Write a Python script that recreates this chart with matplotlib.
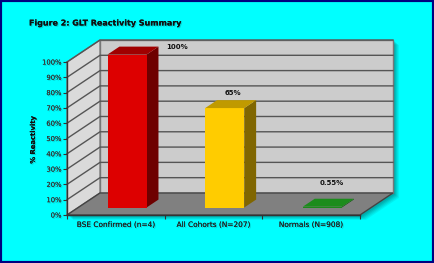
import matplotlib
matplotlib.use("Agg")
import matplotlib.pyplot as plt
from matplotlib.patches import Polygon, Rectangle
from matplotlib import patheffects as pe
from matplotlib.transforms import offset_copy

# ---- data ----
categories = ["BSE Confirmed (n=4)", "All Cohorts (N=207)", "Normals (N=908)"]
values = [100, 65, 0.55]
value_labels = ["100%", "65%", "0.55%"]
yticks = [0, 10, 20, 30, 40, 50, 60, 70, 80, 90, 100]
ytick_labels = [f"{t}%" for t in yticks]
title = "Figure 2: GLT Reactivity Summary"
ylabel = "% Reactivity"

# ---- style ----
front_colors = ["#DD0000", "#FFCC00", "#1A8A1A"]
side_colors = ["#6E0000", "#806600", "#0E5A0E"]
top_colors = ["#A00000", "#C09A00", "#1C8C1C"]
label_offsets = [(0.626, 9.8), (0.199, 14.7), (0.212, 20.4)]

DX, DY = 0.338, 14.4          # depth offset of the back wall (data units)
D0, D1 = 0.34, 0.70           # bar depth range (fraction)
HW = 0.2                      # bar half width
XL, XR = -0.5, 2.5
YMAX = 100

W, H = 434, 263
fig = plt.figure(figsize=(W / 100, H / 100), dpi=100)
fig.patch.set_facecolor("#00FFFF")
# navy frame
fig.add_artist(Rectangle((0, 0), 1, 1, transform=fig.transFigure, fill=False,
                         edgecolor="#000080", linewidth=3.0, zorder=10))

ax = fig.add_axes([67 / W, 48 / H, 326 / W, 175 / H])
ax.set_xlim(XL, XR + DX)
ax.set_ylim(0, YMAX + DY)
ax.patch.set_alpha(0)


def P(x, y, d):
    return (x + d * DX, y + d * DY)


# shadow of the whole chart body
outline = [P(XL, 0, 0), P(XR, 0, 0), P(XR, 0, 1), P(XR, YMAX, 1),
           P(XL, YMAX, 1), P(XL, YMAX, 0)]
for k, a in [(6, 0.10), (5, 0.12), (4, 0.15), (3, 0.18), (2, 0.2)]:
    tr = offset_copy(ax.transData, fig=fig, x=k, y=-k * 0.8, units="dots")
    ax.add_patch(Polygon(outline, closed=True, facecolor="#007070", edgecolor="none",
                         alpha=a, transform=tr, zorder=0.5, clip_on=False))

# back wall
ax.add_patch(Polygon([P(XL, 0, 1), P(XR, 0, 1), P(XR, YMAX, 1), P(XL, YMAX, 1)],
                     closed=True, facecolor="#CCCCCC", edgecolor="#777777",
                     linewidth=1.0, zorder=1, clip_on=False))
# side wall
ax.add_patch(Polygon([P(XL, 0, 0), P(XL, 0, 1), P(XL, YMAX, 1), P(XL, YMAX, 0)],
                     closed=True, facecolor="#DADADA", edgecolor="#777777",
                     linewidth=1.0, zorder=1, clip_on=False))
# grid lines
for t in yticks[1:]:
    xs = [P(XL, t, 0)[0], P(XL, t, 1)[0], P(XR, t, 1)[0]]
    ys = [P(XL, t, 0)[1], P(XL, t, 1)[1], P(XR, t, 1)[1]]
    ax.plot(xs, ys, color="#555555", linewidth=1.0, zorder=1.5, clip_on=False)
# floor
ax.add_patch(Polygon([P(XL, 0, 0), P(XR, 0, 0), P(XR, 0, 1), P(XL, 0, 1)],
                     closed=True, facecolor="#808080", edgecolor="#444444",
                     linewidth=1.0, zorder=2, clip_on=False))

# bars
for i, v in enumerate(values):
    x0, x1 = i - HW, i + HW
    front = [P(x0, 0, D0), P(x1, 0, D0), P(x1, v, D0), P(x0, v, D0)]
    side = [P(x1, 0, D0), P(x1, 0, D1), P(x1, v, D1), P(x1, v, D0)]
    top = [P(x0, v, D0), P(x1, v, D0), P(x1, v, D1), P(x0, v, D1)]
    ax.add_patch(Polygon(side, closed=True, facecolor=side_colors[i], edgecolor="none", zorder=3))
    ax.add_patch(Polygon(front, closed=True, facecolor=front_colors[i], edgecolor="none", zorder=3))
    ax.add_patch(Polygon(top, closed=True, facecolor=top_colors[i], edgecolor="none", zorder=3))
    ox, oy = label_offsets[i]
    ax.text(i + ox, v + oy, value_labels[i], ha="center", va="center",
            fontsize=5.0, fontweight="bold", color="#111111", zorder=5,
            clip_on=False)

# axes / ticks
txt_shadow = [pe.withSimplePatchShadow(offset=(0.8, -0.8), shadow_rgbFace="#008888", alpha=0.35), pe.Normal()]
for s in ["top", "right"]:
    ax.spines[s].set_visible(False)
ax.spines["left"].set_bounds(0, YMAX)
ax.spines["bottom"].set_bounds(XL, XR)
for s in ["left", "bottom"]:
    ax.spines[s].set_color("#333333")
    ax.spines[s].set_linewidth(1.0)
    ax.spines[s].set_zorder(4)
ax.set_yticks(yticks)
ax.set_yticklabels(ytick_labels)
ax.set_xticks([XL, 0.5, 1.5, XR], minor=False)
ax.set_xticklabels([])
ax.set_xticks(range(len(categories)), minor=True)
ax.set_xticklabels(categories, minor=True)
ax.tick_params(axis="y", length=3, width=0.8, color="#333333", pad=1,
               labelsize=4.9, labelcolor="#333333")
ax.tick_params(axis="x", which="major", length=3, width=0.8, color="#333333")
ax.tick_params(axis="x", which="minor", length=0, pad=5, labelsize=5.3,
               labelcolor="#222222")
for lab in ax.get_yticklabels() + ax.get_xticklabels(minor=True):
    lab.set_path_effects(txt_shadow)

fig.text(33 / W, 1 - 140 / H, ylabel, rotation=90, ha="center", va="center",
         fontsize=4.9, fontweight="bold", color="#111111", path_effects=txt_shadow)
fig.text(29 / W, 1 - 23 / H, title, ha="left", va="center",
         fontsize=5.75, fontweight="bold", color="#111111", path_effects=txt_shadow)

fig.savefig("out.png", dpi=100, facecolor=fig.get_facecolor())
